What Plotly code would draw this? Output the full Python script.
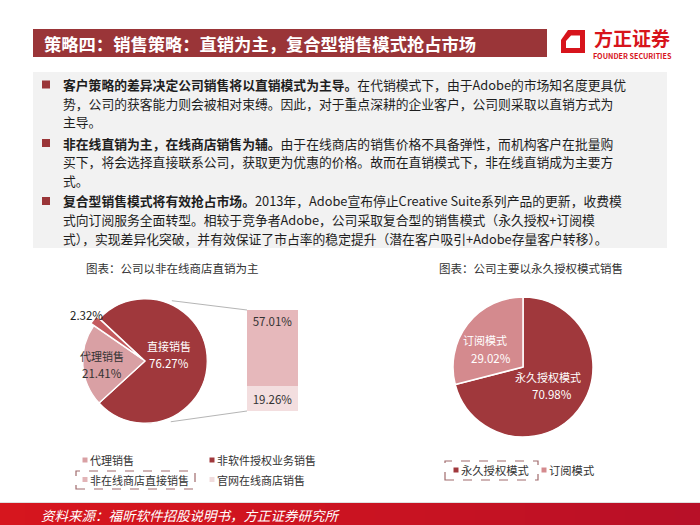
import math
import plotly.graph_objects as go

# ---------------- data ----------------
title_text = "策略四：销售策略：直销为主，复合型销售模式抢占市场"
bullet_lines = [
    ["<b>客户策略的差异决定公司销售将以直销模式为主导。</b>在代销模式下，由于Adobe的市场知名度更具优",
     "势，公司的获客能力则会被相对束缚。因此，对于重点深耕的企业客户，公司则采取以直销方式为",
     "主导。"],
    ["<b>非在线直销为主，在线商店销售为辅。</b>由于在线商店的销售价格不具备弹性，而机构客户在批量购",
     "买下，将会选择直接联系公司，获取更为优惠的价格。故而在直销模式下，非在线直销成为主要方",
     "式。"],
    ["<b>复合型销售模式将有效抢占市场。</b>2013年，Adobe宣布停止Creative Suite系列产品的更新，收费模",
     "式向订阅服务全面转型。相较于竞争者Adobe，公司采取复合型的销售模式（永久授权+订阅模",
     "式），实现差异化突破，并有效保证了市占率的稳定提升（潜在客户吸引+Adobe存量客户转移）。"],
]
chart1_title = "图表：公司以非在线商店直销为主"
chart2_title = "图表：公司主要以永久授权模式销售"
source_text = "资料来源：福昕软件招股说明书，方正证券研究所"

pie1_labels = ["直接销售", "代理销售", "非软件授权业务销售"]
pie1_values = [76.27, 21.41, 2.32]
bar_labels = ["官网在线商店销售", "非在线商店直接销售"]
bar_values = [19.26, 57.01]
legend1_labels = ["代理销售", "非软件授权业务销售", "非在线商店直接销售", "官网在线商店销售"]

pie2_labels = ["永久授权模式", "订阅模式"]
pie2_values = [70.98, 29.02]

# ---------------- style ----------------
W, H = 700, 525
FONT = "Noto Sans CJK SC"
DARK = "#A0383C"
C_AGENT = "#D9A0A4"
C_SMALL = "#C45A5E"
C_BAR_TOP = "#E6B8BB"
C_BAR_BOT = "#F3DEDF"
C_SUB = "#D48A8E"
BAR_RED = "#9A3538"


def X(x):
    return x / W


def Y(y):
    return 1 - y / H


shapes = []
annotations = []


def rect(x0, y0, x1, y1, fill, line=None, dash=None, layer="below"):
    d = dict(type="rect", xref="paper", yref="paper",
             x0=X(x0), x1=X(x1), y0=Y(y1), y1=Y(y0),
             fillcolor=fill, layer=layer)
    if line:
        d["line"] = dict(color=line, width=1.2, dash=dash or "solid")
    else:
        d["line"] = dict(width=0)
    shapes.append(d)


def text(x, y, s, size, color="#222", anchor="left", bold=False, style="normal"):
    annotations.append(dict(
        xref="paper", yref="paper", x=X(x), y=Y(y), text=s, showarrow=False,
        xanchor=anchor, yanchor="middle", borderpad=0,
        font=dict(family=FONT, size=size, color=color, style=style,
                  weight="bold" if bold else "normal")))


# title bar
rect(33, 29, 547, 57, BAR_RED)
text(43, 43.5, title_text, 17.3, "white", bold=True)

# logo
shapes.append(dict(type="path", xref="paper", yref="paper",
                   path=f"M {X(568)},{Y(30)} L {X(585)},{Y(30)} L {X(585)},{Y(53)} L {X(561)},{Y(53)} L {X(561)},{Y(40)} Z",
                   fillcolor="#D7141C", line=dict(width=0)))
shapes.append(dict(type="path", xref="paper", yref="paper",
                   path=f"M {X(571)},{Y(35.5)} L {X(580)},{Y(35.5)} L {X(580)},{Y(48)} L {X(566)},{Y(48)} L {X(566)},{Y(41)} Z",
                   fillcolor="white", line=dict(width=0)))
text(632, 37, "方正证券", 19, "#D7141C", anchor="center", bold=True)
text(632, 55.5, "FOUNDER SECURITIES", 7.2, "#D7141C", anchor="center", bold=True)

# grey text box
rect(33, 72, 667, 248, "#F2F2F2")
para_y = [84.5, 143, 201]
line_gap = 18.6
for p, lines in enumerate(bullet_lines):
    y0 = para_y[p]
    rect(42, y0 - 4, 50, y0 + 4, BAR_RED, layer="above")
    for i, ln in enumerate(lines):
        text(62, y0 + i * line_gap, ln, 12.8, "#1E1E1E")

# chart titles
text(172, 268, chart1_title, 11.5, "#333", anchor="center")
text(531, 268, chart2_title, 11.5, "#333", anchor="center")

# ---------------- chart 1: pie + bar ----------------
cx1, cy1, r1 = 145, 361, 66
fig = go.Figure()
fig.add_trace(go.Pie(
    labels=pie1_labels, values=pie1_values, sort=False, direction="clockwise",
    rotation=-47, textinfo="none", showlegend=False, pull=[0, 0, 0.06],
    marker=dict(colors=[DARK, C_AGENT, C_SMALL], line=dict(color="white", width=1.3)),
    domain=dict(x=[X(cx1 - r1), X(cx1 + r1)], y=[Y(cy1 + r1), Y(cy1 - r1)]),
))
text(169, 346, pie1_labels[0], 11, "white", anchor="center")
text(169, 363, f"{pie1_values[0]:.2f}%", 11.5, "white", anchor="center")
text(102, 355.5, pie1_labels[1], 11, "#333", anchor="center")
text(102, 372.5, f"{pie1_values[1]:.2f}%", 11.5, "#333", anchor="center")
text(86, 315, f"{pie1_values[2]:.2f}%", 11.5, "#222", anchor="center")

# stacked bar (bar of pie)
bx0, bx1, by0, by1 = 247, 298, 310, 411
for lab, val, col in zip(bar_labels, bar_values, [C_BAR_BOT, C_BAR_TOP]):
    fig.add_trace(go.Bar(x=[0], y=[val], name=lab, marker=dict(color=col, line=dict(width=0)),
                         showlegend=False, xaxis="x", yaxis="y",
                         text=[f"{val:.2f}%"], textposition="inside",
                         insidetextanchor="end" if val > 30 else "middle",
                         textfont=dict(family=FONT, size=11.5, color="#333")))

# connector lines
a_up, a_lo = math.radians(24), math.radians(157)
shapes.append(dict(type="line", xref="paper", yref="paper",
                   x0=X(cx1 + r1 * math.sin(a_up)), y0=Y(cy1 - r1 * math.cos(a_up)),
                   x1=X(bx0), y1=Y(by0), line=dict(color="#B5B5B5", width=1)))
shapes.append(dict(type="line", xref="paper", yref="paper",
                   x0=X(cx1 + r1 * math.sin(a_lo)), y0=Y(cy1 - r1 * math.cos(a_lo)),
                   x1=X(bx0), y1=Y(by1), line=dict(color="#B5B5B5", width=1)))

# legend 1
leg1_cols = [C_AGENT, DARK, "#E2B4B7", "#F0DCDD"]
leg1_pos = [(85, 460), (212, 460), (85, 479.5), (212, 479.5)]
for lab, col, (lx, ly) in zip(legend1_labels, leg1_cols, leg1_pos):
    rect(lx - 2.5, ly - 2.5, lx + 2.5, ly + 2.5, col, layer="above")
    text(lx + 4, ly, lab, 11, "#333")
rect(76, 471, 195, 489, "rgba(0,0,0,0)", line="#A06A6C", dash="dash", layer="above")

# ---------------- chart 2 ----------------
cx2, cy2, r2 = 523, 367, 70
fig.add_trace(go.Pie(
    labels=pie2_labels, values=pie2_values, sort=False, direction="clockwise",
    rotation=0, textinfo="none", showlegend=False,
    marker=dict(colors=[DARK, C_SUB], line=dict(color="white", width=1.5)),
    domain=dict(x=[X(cx2 - r2), X(cx2 + r2)], y=[Y(cy2 + r2), Y(cy2 - r2)]),
))
text(485, 340, pie2_labels[1], 11, "white", anchor="center")
text(491, 358, f"{pie2_values[1]:.2f}%", 11.5, "white", anchor="center")
text(548, 376.5, pie2_labels[0], 11, "white", anchor="center")
text(552, 394, f"{pie2_values[0]:.2f}%", 11.5, "white", anchor="center")

leg2_cols = [DARK, C_SUB]
leg2_pos = [(456, 470), (544, 470)]
for lab, col, (lx, ly) in zip(pie2_labels, leg2_cols, leg2_pos):
    rect(lx - 2.5, ly - 2.5, lx + 2.5, ly + 2.5, col, layer="above")
    text(lx + 4, ly, lab, 11.3, "#333")
rect(445, 461, 538, 480, "rgba(0,0,0,0)", line="#A06A6C", dash="dash", layer="above")

# ---------------- footer ----------------
shapes.append(dict(type="line", xref="paper", yref="paper", x0=0, x1=1, y0=Y(502.5), y1=Y(502.5),
                   line=dict(color="#E0E0E0", width=1)))
n = 28
c0, c1 = (214, 22, 30), (184, 16, 40)
for i in range(n):
    t = i / (n - 1)
    col = tuple(int(c0[k] + (c1[k] - c0[k]) * (t ** 1.5)) for k in range(3))
    rect(W * i / n, 503, W * (i + 1) / n + 1, 525, f"rgb{col}")
text(40, 514.5, source_text, 13.5, "white", style="italic")

fig.update_layout(
    width=W, height=H, margin=dict(l=0, r=0, t=0, b=0),
    paper_bgcolor="white", plot_bgcolor="rgba(0,0,0,0)",
    barmode="stack", bargap=0,
    xaxis=dict(domain=[X(bx0), X(bx1)], range=[-0.5, 0.5], visible=False, fixedrange=True),
    yaxis=dict(domain=[Y(by1), Y(by0)], range=[0, sum(bar_values)], visible=False, fixedrange=True),
    shapes=shapes, annotations=annotations,
    font=dict(family=FONT),
)
fig.write_html("out.html", config={"displayModeBar": False},
               post_script="document.body.style.margin='0';document.body.style.overflow='hidden';")
